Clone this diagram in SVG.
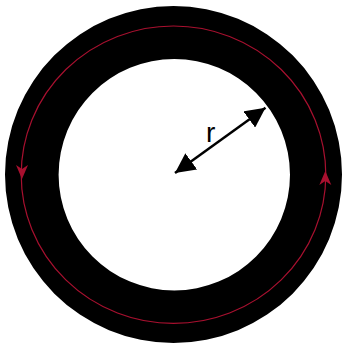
<svg xmlns="http://www.w3.org/2000/svg" width="343" height="344" viewBox="0 0 343 344">
  <style>
    .red { fill: none; stroke: #a8102f; stroke-width: 1.2; }
    .redhead { fill: #a8102f; }
    .r-line { stroke: #000; stroke-width: 2.5; }
    .label { font-family: "Liberation Sans", Arial, sans-serif; font-size: 28px; fill: #000; }
  </style>
  <defs>
    <marker id="bh" viewBox="0 0 10 10" refX="10" refY="5" markerWidth="8" markerHeight="8" markerUnits="strokeWidth" orient="auto-start-reverse">
      <path d="M0,0 L10,5 L0,10 Z" fill="#000"/>
    </marker>
  </defs>
  <g id="ring">
    <path d="M173.5,6 A168.5,168.5 0 1 1 173.5,343 A168.5,168.5 0 1 1 173.5,6 Z M174.3,59 A115.7,115.7 0 1 0 174.3,290.4 A115.7,115.7 0 1 0 174.3,59 Z" fill="#000" fill-rule="evenodd"/>
  </g>
  <g id="current">
    <ellipse class="red" cx="173.5" cy="174.7" rx="152.3" ry="148.7"/>
    <path class="redhead" d="M22,179 L16,165 L22,169 L28,165 Z"/>
    <path class="redhead" d="M325.3,171 L331.3,185 L325.3,181 L319.3,185 Z"/>
  </g>
  <g id="connectors">
    <line class="r-line" x1="175" y1="173" x2="265.5" y2="107.8" marker-start="url(#bh)" marker-end="url(#bh)"/>
  </g>
  <g id="label-r">
    <text class="label" x="206" y="142">r</text>
  </g>
</svg>
